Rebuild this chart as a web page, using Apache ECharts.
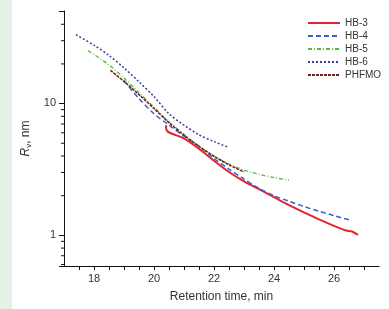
<!DOCTYPE html>
<html>
<head>
<meta charset="utf-8">
<script src="https://cdn.jsdelivr.net/npm/echarts@6/dist/echarts.min.js"></script>
<style>
  html, body { margin: 0; padding: 0; background: #fff; }
  #strip { position: absolute; left: 0; top: 0; width: 12px; height: 309px; background: #e4f1e4; }
  #chart { width: 389px; height: 309px; }
</style>
</head>
<body>
<div id="strip"></div>
<div id="chart"></div>
<script>
// retention time (min) / Rv (nm) pairs
const hb3 = [[20.4, 6.8], [20.45, 6.1], [21.0, 5.4], [21.5, 4.5], [22.0, 3.65], [22.5, 3.0], [23.0, 2.55],
    [23.5, 2.22], [24.0, 1.93], [24.5, 1.68], [25.0, 1.48], [25.5, 1.31], [26.0, 1.17], [26.4, 1.08],
    [26.6, 1.06], [26.8, 1.0]];
const hb4 = [[19.0, 14.8], [19.5, 10.8], [20.0, 8.3], [20.5, 6.8], [21.0, 5.6], [21.5, 4.7], [22.0, 3.8],
    [22.5, 3.15], [23.0, 2.65], [23.5, 2.25], [24.0, 1.98], [24.5, 1.8], [25.0, 1.64], [25.5, 1.51],
    [26.0, 1.4], [26.5, 1.3]];
const hb5 = [[17.8, 25], [18.5, 19.5], [19.0, 15.5], [19.5, 12], [20.0, 9.3], [20.5, 7.2], [21.0, 5.8],
    [21.5, 4.7], [22.0, 3.95], [22.5, 3.45], [23.0, 3.1], [23.5, 2.88], [24.0, 2.72], [24.5, 2.6]];
const hb6 = [[17.4, 33], [18.0, 27.5], [18.5, 23], [19.0, 18.5], [19.5, 14.5], [20.0, 11.2], [20.5, 8.3],
    [21.0, 6.8], [21.5, 5.75], [22.0, 5.1], [22.5, 4.6]];
const phfmo = [[18.55, 17.7], [19.0, 14.6], [19.5, 11.6], [20.0, 9.1], [20.5, 7.1], [21.0, 5.7], [21.5, 4.7],
    [22.0, 3.95], [22.5, 3.4], [23.0, 3.0]];

const xLabels = [18, 20, 22, 24, 26];
const yLabels = [1, 10];
const yTicks = [0.6, 0.7, 0.8, 0.9, 2, 3, 4, 5, 6, 7, 8, 9, 20, 30, 40, 50];

const font = 'Liberation Sans, Arial, sans-serif';
const chart = echarts.init(document.getElementById('chart'));

function line(name, data, color, width, type) {
    return {
        name: name,
        type: 'line',
        data: data,
        symbol: 'none',
        smooth: 0.3,
        lineStyle: { color: color, width: width, type: type },
        itemStyle: { color: color }
    };
}

// short minor ticks on the log axis, placed through the axis scale
const minorTicks = {
    type: 'custom',
    silent: true,
    clip: false,
    z: 10,
    data: yTicks.map(v => [17, v]),
    renderItem: function (params, api) {
        const p = api.coord([api.value(0), api.value(1)]);
        return {
            type: 'line',
            shape: { x1: p[0] - 3, y1: p[1] + 0.5, x2: p[0], y2: p[1] + 0.5 },
            style: { stroke: '#111', lineWidth: 1 }
        };
    }
};

chart.setOption({
    animation: false,
    grid: { left: 64, right: 10, top: 11, bottom: 43 },
    legend: {
        orient: 'vertical',
        left: 302,
        top: 13,
        itemWidth: 32,
        itemHeight: 11,
        itemGap: 3,
        itemStyle: { opacity: 0 },
        textStyle: { fontFamily: font, fontSize: 10, color: '#333' },
        data: ['HB-3', 'HB-4', 'HB-5', 'HB-6', 'PHFMO']
    },
    xAxis: {
        type: 'value',
        min: 17,
        max: 27.5,
        interval: 0.5,
        name: 'Retention time, min',
        nameLocation: 'middle',
        nameGap: 25,
        nameTextStyle: { fontFamily: font, fontSize: 12, color: '#333' },
        axisLine: { lineStyle: { color: '#111', width: 1 } },
        axisTick: { show: true, length: 4, lineStyle: { color: '#111', width: 1 } },
        axisLabel: {
            margin: 7, fontFamily: font, fontSize: 11, color: '#333',
            showMinLabel: false, showMaxLabel: false,
            formatter: v => (xLabels.indexOf(v) >= 0 ? String(v) : '')
        },
        splitLine: { show: false }
    },
    yAxis: {
        type: 'log',
        min: 0.58,
        max: 50,
        name: '{i|R}{s|v}{n|, nm}',
        nameLocation: 'middle',
        nameGap: 24,
        nameTextStyle: {
            fontFamily: font, color: '#333',
            rich: {
                i: { fontFamily: font, fontSize: 12, fontStyle: 'italic', color: '#333' },
                s: { fontFamily: font, fontSize: 8, color: '#333', verticalAlign: 'bottom', padding: [6, 0, 0, 0] },
                n: { fontFamily: font, fontSize: 12, color: '#333' }
            }
        },
        axisLine: { show: true, lineStyle: { color: '#111', width: 1 } },
        axisTick: { show: true, length: 5, lineStyle: { color: '#111', width: 1 } },
        axisLabel: { customValues: yLabels, margin: 8, fontFamily: font, fontSize: 11, color: '#333' },
        splitLine: { show: false }
    },
    series: [
        line('HB-3', hb3, '#e5232f', 2, 'solid'),
        line('HB-4', hb4, '#3a5fd0', 1.5, [5, 3]),
        line('HB-5', hb5, '#55bb3c', 1.3, [4, 2, 1, 2]),
        line('HB-6', hb6, '#3b3aa6', 1.5, [2, 2]),
        line('PHFMO', phfmo, '#6e1e1e', 1.5, [3, 1]),
        minorTicks
    ]
});

window.addEventListener('resize', () => chart.resize());
</script>
</body>
</html>
